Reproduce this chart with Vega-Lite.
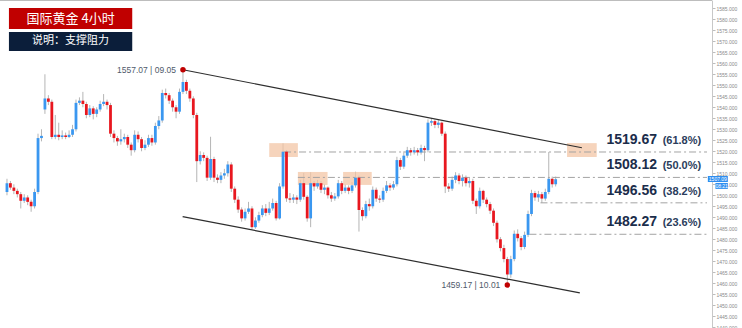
{
"$schema":"https://vega.github.io/schema/vega-lite/v6.json",
"width":712,"height":328,
"autosize":{"type":"none"},"padding":{"left":0,"top":0,"right":30,"bottom":0},
"background":"#ffffff",
"view":{"stroke":null},
"config":{"font":"Liberation Sans","axisY":{"orient":"right","format":".3f","tickCount":30,"labelFontSize":5,"labelColor":"#8a8a8a","tickSize":3,"tickColor":"#bdbdbd","domainColor":"#c8c8c8","labelPadding":1,"grid":false,"labelOverlap":false,"labelFont":"Liberation Sans"}},
"datasets":{
"candles":[
{"i":0,"o":1501.5,"c":1505.5,"h":1507.5,"l":1500},
{"i":1,"o":1505.5,"c":1503.5,"h":1506.5,"l":1502.5},
{"i":2,"o":1503.5,"c":1502,"h":1505,"l":1500.5},
{"i":3,"o":1502,"c":1500.5,"h":1503,"l":1499},
{"i":4,"o":1500.5,"c":1497.5,"h":1501.5,"l":1494},
{"i":5,"o":1497.5,"c":1499,"h":1500.5,"l":1496.5},
{"i":6,"o":1499,"c":1497,"h":1500,"l":1495.5},
{"i":7,"o":1497,"c":1495,"h":1498,"l":1492.5},
{"i":8,"o":1495,"c":1501.5,"h":1503,"l":1494},
{"i":9,"o":1501.5,"c":1526,"h":1528,"l":1500.5},
{"i":10,"o":1526,"c":1527,"h":1530,"l":1524.5},
{"i":11,"o":1539,"c":1544,"h":1555,"l":1537},
{"i":12,"o":1544,"c":1542.5,"h":1545.5,"l":1541},
{"i":13,"o":1542.5,"c":1526.5,"h":1543.5,"l":1525.5},
{"i":14,"o":1526.5,"c":1527.5,"h":1536.5,"l":1525.5},
{"i":15,"o":1527.5,"c":1526.5,"h":1533,"l":1525},
{"i":16,"o":1526.5,"c":1527.2,"h":1529.5,"l":1525.5},
{"i":17,"o":1527.2,"c":1526.5,"h":1528.5,"l":1525.5},
{"i":18,"o":1526.5,"c":1527.5,"h":1529.5,"l":1526},
{"i":19,"o":1527.5,"c":1530,"h":1532,"l":1526.5},
{"i":20,"o":1530,"c":1542,"h":1543.5,"l":1529},
{"i":21,"o":1542,"c":1543,"h":1544.5,"l":1541},
{"i":22,"o":1543,"c":1541.5,"h":1547,"l":1540},
{"i":23,"o":1541.5,"c":1536.5,"h":1542.5,"l":1535},
{"i":24,"o":1536.5,"c":1539.5,"h":1541,"l":1535.5},
{"i":25,"o":1539.5,"c":1537,"h":1540.5,"l":1534.5},
{"i":26,"o":1537,"c":1539,"h":1540,"l":1535.5},
{"i":27,"o":1539,"c":1541.5,"h":1543,"l":1538},
{"i":28,"o":1541.5,"c":1542.5,"h":1546,"l":1540.5},
{"i":29,"o":1542.5,"c":1541,"h":1543.5,"l":1539},
{"i":30,"o":1541,"c":1528,"h":1542,"l":1526.5},
{"i":31,"o":1528,"c":1526,"h":1529.5,"l":1524},
{"i":32,"o":1526,"c":1524.5,"h":1527,"l":1522.5},
{"i":33,"o":1524.5,"c":1525.5,"h":1530,"l":1523},
{"i":34,"o":1525.5,"c":1526.5,"h":1528,"l":1524},
{"i":35,"o":1526.5,"c":1523,"h":1527.5,"l":1521.5},
{"i":36,"o":1523,"c":1520.5,"h":1524,"l":1518},
{"i":37,"o":1520.5,"c":1527.5,"h":1529.5,"l":1519.5},
{"i":38,"o":1527.5,"c":1525.5,"h":1529,"l":1524},
{"i":39,"o":1525.5,"c":1521.5,"h":1526.5,"l":1520},
{"i":40,"o":1521.5,"c":1523,"h":1525,"l":1520.5},
{"i":41,"o":1523,"c":1526,"h":1527.5,"l":1522},
{"i":42,"o":1526,"c":1524,"h":1527.5,"l":1522.5},
{"i":43,"o":1524,"c":1531.5,"h":1533,"l":1523},
{"i":44,"o":1531.5,"c":1534,"h":1536,"l":1530},
{"i":45,"o":1534,"c":1546.5,"h":1548,"l":1533},
{"i":46,"o":1546.5,"c":1545.5,"h":1548.5,"l":1544},
{"i":47,"o":1545.5,"c":1543,"h":1546.5,"l":1541.5},
{"i":48,"o":1543,"c":1540,"h":1544,"l":1538},
{"i":49,"o":1540,"c":1538,"h":1541,"l":1535},
{"i":50,"o":1538,"c":1547,"h":1548.5,"l":1537},
{"i":51,"o":1547,"c":1551.5,"h":1557.07,"l":1546},
{"i":52,"o":1551.5,"c":1547.5,"h":1552.5,"l":1546},
{"i":53,"o":1547.5,"c":1544,"h":1548.5,"l":1542.5},
{"i":54,"o":1544,"c":1536.5,"h":1545,"l":1535},
{"i":55,"o":1536.5,"c":1515.5,"h":1537.5,"l":1506},
{"i":56,"o":1515.5,"c":1518.3,"h":1520,"l":1514},
{"i":57,"o":1518.3,"c":1517,"h":1519.5,"l":1515.5},
{"i":58,"o":1517,"c":1508,"h":1518,"l":1506.5},
{"i":59,"o":1508,"c":1516.5,"h":1526.6,"l":1507},
{"i":60,"o":1516.5,"c":1508,"h":1517.5,"l":1506},
{"i":61,"o":1508,"c":1507,"h":1509.5,"l":1505.5},
{"i":62,"o":1507,"c":1509,"h":1510.5,"l":1505.5},
{"i":63,"o":1509,"c":1510,"h":1512,"l":1507.5},
{"i":64,"o":1510,"c":1514,"h":1515.5,"l":1508.5},
{"i":65,"o":1514,"c":1503,"h":1515,"l":1501.5},
{"i":66,"o":1503,"c":1498,"h":1504,"l":1496.5},
{"i":67,"o":1498,"c":1493.5,"h":1499.5,"l":1492},
{"i":68,"o":1493.5,"c":1489.5,"h":1494.5,"l":1488},
{"i":69,"o":1489.5,"c":1492.5,"h":1494,"l":1488.5},
{"i":70,"o":1492.5,"c":1494,"h":1497,"l":1491.5},
{"i":71,"o":1494,"c":1485.5,"h":1495,"l":1484.5},
{"i":72,"o":1485.5,"c":1488.5,"h":1490,"l":1484.8},
{"i":73,"o":1488.5,"c":1491,"h":1492.5,"l":1487.5},
{"i":74,"o":1491,"c":1494,"h":1495.5,"l":1490},
{"i":75,"o":1494,"c":1492,"h":1496,"l":1490.5},
{"i":76,"o":1492,"c":1494,"h":1497,"l":1491},
{"i":77,"o":1494,"c":1496.5,"h":1498.5,"l":1493},
{"i":78,"o":1496.5,"c":1489.5,"h":1497.5,"l":1488.5},
{"i":79,"o":1489.5,"c":1504,"h":1505.5,"l":1489},
{"i":80,"o":1504,"c":1519.8,"h":1523.6,"l":1503},
{"i":81,"o":1519.8,"c":1498.6,"h":1520.5,"l":1497},
{"i":82,"o":1498.6,"c":1498,"h":1501,"l":1496.5},
{"i":83,"o":1498,"c":1499,"h":1500.5,"l":1496.5},
{"i":84,"o":1499,"c":1498,"h":1500,"l":1496},
{"i":85,"o":1498,"c":1505.5,"h":1507,"l":1497},
{"i":86,"o":1505.5,"c":1499.3,"h":1510.2,"l":1498},
{"i":87,"o":1499.3,"c":1489.5,"h":1500,"l":1488},
{"i":88,"o":1489.5,"c":1505.5,"h":1510.5,"l":1485.5},
{"i":89,"o":1505.5,"c":1504,"h":1506.5,"l":1502},
{"i":90,"o":1504,"c":1505.5,"h":1507,"l":1503},
{"i":91,"o":1505.5,"c":1502.5,"h":1506.5,"l":1501},
{"i":92,"o":1502.5,"c":1503.5,"h":1505,"l":1500.5},
{"i":93,"o":1503.5,"c":1500,"h":1504,"l":1498.5},
{"i":94,"o":1500,"c":1498.5,"h":1501.5,"l":1497},
{"i":95,"o":1498.5,"c":1499.5,"h":1501,"l":1497.5},
{"i":96,"o":1499.5,"c":1505.5,"h":1507,"l":1498.5},
{"i":97,"o":1505.5,"c":1502,"h":1506.5,"l":1500.5},
{"i":98,"o":1502,"c":1503.5,"h":1505,"l":1501},
{"i":99,"o":1503.5,"c":1502,"h":1504.5,"l":1500.5},
{"i":100,"o":1502,"c":1504.5,"h":1506,"l":1501},
{"i":101,"o":1504.5,"c":1508,"h":1510.7,"l":1503.5},
{"i":102,"o":1508,"c":1493.3,"h":1509,"l":1483.5},
{"i":103,"o":1493.3,"c":1490.5,"h":1494.5,"l":1488.5},
{"i":104,"o":1490.5,"c":1496,"h":1497.5,"l":1489.5},
{"i":105,"o":1496,"c":1495,"h":1498.5,"l":1493},
{"i":106,"o":1495,"c":1502.5,"h":1504,"l":1494},
{"i":107,"o":1502.5,"c":1498.5,"h":1503.5,"l":1497},
{"i":108,"o":1498.5,"c":1498,"h":1500,"l":1496.5},
{"i":109,"o":1498,"c":1502,"h":1503.5,"l":1497},
{"i":110,"o":1502,"c":1504.5,"h":1506.5,"l":1501},
{"i":111,"o":1504.5,"c":1503.5,"h":1505.5,"l":1502},
{"i":112,"o":1503.5,"c":1505,"h":1506.5,"l":1502.5},
{"i":113,"o":1505,"c":1516,"h":1517.5,"l":1504},
{"i":114,"o":1516,"c":1513,"h":1517,"l":1511.5},
{"i":115,"o":1513,"c":1518,"h":1520,"l":1512},
{"i":116,"o":1518,"c":1520.5,"h":1522,"l":1517},
{"i":117,"o":1520.5,"c":1519.5,"h":1521.5,"l":1518},
{"i":118,"o":1519.5,"c":1520.5,"h":1522,"l":1518.5},
{"i":119,"o":1520.5,"c":1519.5,"h":1521.5,"l":1518},
{"i":120,"o":1519.5,"c":1521.5,"h":1523,"l":1518.5},
{"i":121,"o":1521.5,"c":1520.5,"h":1522.5,"l":1515.5},
{"i":122,"o":1520.5,"c":1533,"h":1534.5,"l":1519.5},
{"i":123,"o":1533,"c":1533.7,"h":1535,"l":1531.5},
{"i":124,"o":1533.7,"c":1532,"h":1534.5,"l":1530.5},
{"i":125,"o":1532,"c":1533,"h":1534.5,"l":1530.5},
{"i":126,"o":1533,"c":1528,"h":1533.5,"l":1527},
{"i":127,"o":1528,"c":1504,"h":1529,"l":1501},
{"i":128,"o":1504,"c":1503,"h":1505.5,"l":1501.5},
{"i":129,"o":1503,"c":1507,"h":1508.5,"l":1502},
{"i":130,"o":1507,"c":1509,"h":1510.5,"l":1505.5},
{"i":131,"o":1509,"c":1506.5,"h":1510,"l":1505},
{"i":132,"o":1506.5,"c":1508,"h":1509.5,"l":1504},
{"i":133,"o":1508,"c":1505.5,"h":1509,"l":1504},
{"i":134,"o":1505.5,"c":1506.5,"h":1508,"l":1503.5},
{"i":135,"o":1506.5,"c":1497.5,"h":1507.5,"l":1496},
{"i":136,"o":1497.5,"c":1495,"h":1498.5,"l":1491.5},
{"i":137,"o":1495,"c":1502,"h":1503.5,"l":1494},
{"i":138,"o":1502,"c":1498,"h":1502.5,"l":1496.5},
{"i":139,"o":1498,"c":1496,"h":1499,"l":1494.5},
{"i":140,"o":1496,"c":1493,"h":1497,"l":1491.5},
{"i":141,"o":1493,"c":1487.5,"h":1494,"l":1486},
{"i":142,"o":1487.5,"c":1480,"h":1488.5,"l":1478.5},
{"i":143,"o":1480,"c":1476,"h":1481,"l":1474.5},
{"i":144,"o":1476,"c":1471,"h":1477.5,"l":1469.5},
{"i":145,"o":1471,"c":1464,"h":1472,"l":1459.17},
{"i":146,"o":1464,"c":1471,"h":1472.5,"l":1462.5},
{"i":147,"o":1471,"c":1482.5,"h":1484,"l":1470},
{"i":148,"o":1482.5,"c":1480.5,"h":1484.5,"l":1479},
{"i":149,"o":1480.5,"c":1476.5,"h":1481.5,"l":1475},
{"i":150,"o":1476.5,"c":1482,"h":1483.5,"l":1475.5},
{"i":151,"o":1482,"c":1491.5,"h":1493,"l":1481},
{"i":152,"o":1491.5,"c":1501,"h":1502.5,"l":1490.5},
{"i":153,"o":1501,"c":1499,"h":1502,"l":1497.5},
{"i":154,"o":1499,"c":1500.5,"h":1502,"l":1497},
{"i":155,"o":1500.5,"c":1498.5,"h":1501.5,"l":1496.5},
{"i":156,"o":1498.5,"c":1501.5,"h":1503,"l":1497.5},
{"i":157,"o":1501.5,"c":1507.5,"h":1519.7,"l":1500.5},
{"i":158,"o":1507.5,"c":1505,"h":1508.5,"l":1503.5},
{"i":159,"o":1505,"c":1507.3,"h":1508.5,"l":1504}
],
"levels":[
{"level":1519.67,"pct":"(61.8%)","from":80.3},
{"level":1508.12,"pct":"(50.0%)","from":84.3},
{"level":1496.56,"pct":"(38.2%)","from":154.6},
{"level":1482.27,"pct":"(23.6%)","from":151.4}
],
"zones":[
{"i1":76,"i2":84.3,"p1":1523.7,"p2":1517.4},
{"i1":84.3,"i2":92.9,"p1":1510.6,"p2":1504.7},
{"i1":97.4,"i2":105.7,"p1":1510.6,"p2":1504.7},
{"i1":162.3,"i2":170.9,"p1":1523.7,"p2":1517.4}
],
"channel":[
{"line":"upper","i":51,"p":1557.07},
{"line":"upper","i":166.6,"p":1521.6},
{"line":"lower","i":50.9,"p":1490.3},
{"line":"lower","i":166,"p":1455.6}
],
"pivots":[
{"i":51,"p":1557.07,"t":"1557.07 | 09.05"},
{"i":145,"p":1459.17,"t":"1459.17 | 10.01"}
],
"tags":[
{"kind":"title","t":"国际黄金 4小时"},
{"kind":"note","t":"说明：支撑阻力"},
{"kind":"price","t":"1507.09"},
{"kind":"time","t":"08:21"}
]
},
"layer":[
{"data":{"name":"candles"},
 "mark":{"type":"rule","color":"#b5b5b5","strokeWidth":1},
 "encoding":{
  "x":{"field":"i","type":"quantitative","scale":{"domain":[-0.5714,202.857],"nice":false,"zero":false},"axis":null},
  "y":{"field":"l","type":"quantitative","scale":{"domain":[1439.67,1588.76],"nice":false,"zero":false},
   "axis":{"orient":"right","title":null,"tickCount":30,"values":[1440,1445,1450,1455,1460,1465,1470,1475,1480,1485,1490,1495,1500,1505,1510,1515,1520,1525,1530,1535,1540,1545,1550,1555,1560,1565,1570,1575,1580,1585],"format":".3f","labelOverlap":false}},
  "y2":{"field":"h"}}},
{"data":{"name":"tags"},"transform":[{"filter":"datum.kind == 'title'"}],
 "mark":{"type":"rule","color":"#bdbdbd","strokeWidth":2},
 "encoding":{"y":{"datum":1588.76,"type":"quantitative","title":null}}},
{"data":{"name":"zones"},
 "mark":{"type":"rect","color":"#f3c6a5","opacity":0.75},
 "encoding":{
  "x":{"field":"i1","type":"quantitative","axis":null},
  "x2":{"field":"i2"},
  "y":{"field":"p1","type":"quantitative","title":null},
  "y2":{"field":"p2"}}},
{"data":{"name":"levels"},
 "mark":{"type":"rule","color":"#a3a3a3","strokeWidth":1,"strokeDash":[7,3,2,3]},
 "encoding":{
  "x":{"field":"from","type":"quantitative","axis":null},
  "x2":{"datum":202.857},
  "y":{"field":"level","type":"quantitative","title":null}}},
{"data":{"name":"candles"},
 "mark":{"type":"bar","size":2.8},
 "encoding":{
  "x":{"field":"i","type":"quantitative","axis":null},
  "y":{"field":"o","type":"quantitative","title":null},
  "y2":{"field":"c"},
  "color":{"condition":{"test":"datum.c >= datum.o","value":"#3a97f0"},"value":"#e8171f"}}},
{"data":{"name":"channel"},
 "mark":{"type":"line","color":"#2e2e2e","strokeWidth":1.2},
 "encoding":{
  "x":{"field":"i","type":"quantitative","axis":null},
  "y":{"field":"p","type":"quantitative","title":null},
  "detail":{"field":"line"}}},
{"data":{"name":"pivots"},
 "mark":{"type":"point","filled":true,"color":"#c00000","size":30,"opacity":1},
 "encoding":{
  "x":{"field":"i","type":"quantitative","axis":null},
  "y":{"field":"p","type":"quantitative","title":null}}},
{"data":{"name":"pivots"},
 "mark":{"type":"text","align":"right","baseline":"middle","dx":-7,"fontSize":8.5,"color":"#4f5a6b"},
 "encoding":{
  "x":{"field":"i","type":"quantitative","axis":null},
  "y":{"field":"p","type":"quantitative","title":null},
  "text":{"field":"t"}}},
{"data":{"name":"levels"},
 "mark":{"type":"text","align":"left","baseline":"alphabetic","dy":-8,"fontSize":14,"fontWeight":"bold","color":"#1b2d4b"},
 "encoding":{
  "x":{"datum":173.7,"type":"quantitative","axis":null},
  "y":{"field":"level","type":"quantitative","title":null},
  "text":{"field":"level","type":"quantitative","format":".2f"}}},
{"data":{"name":"levels"},
 "mark":{"type":"text","align":"left","baseline":"alphabetic","dy":-8,"fontSize":11,"fontWeight":"bold","color":"#2b3d5c"},
 "encoding":{
  "x":{"datum":190,"type":"quantitative","axis":null},
  "y":{"field":"level","type":"quantitative","title":null},
  "text":{"field":"pct"}}},
{"data":{"name":"tags"},"transform":[{"filter":"datum.kind == 'title'"}],
 "mark":{"type":"rect","color":"#c00000"},
 "encoding":{
  "x":{"datum":0.57,"type":"quantitative","axis":null},
  "x2":{"datum":36.3},
  "y":{"datum":1585.1,"type":"quantitative","title":null},
  "y2":{"datum":1575.6}}},
{"data":{"name":"tags"},"transform":[{"filter":"datum.kind == 'note'"}],
 "mark":{"type":"rect","color":"#0b1e3a"},
 "encoding":{
  "x":{"datum":0.57,"type":"quantitative","axis":null},
  "x2":{"datum":36.3},
  "y":{"datum":1574.2,"type":"quantitative","title":null},
  "y2":{"datum":1565.6}}},
{"data":{"name":"tags"},"transform":[{"filter":"datum.kind == 'title'"}],
 "mark":{"type":"text","align":"center","baseline":"middle","fontSize":13,"color":"#ffffff","font":"Noto Sans CJK SC"},
 "encoding":{
  "x":{"datum":18.43,"type":"quantitative","axis":null},
  "y":{"datum":1580.35,"type":"quantitative","title":null},
  "text":{"field":"t"}}},
{"data":{"name":"tags"},"transform":[{"filter":"datum.kind == 'note'"}],
 "mark":{"type":"text","align":"center","baseline":"middle","fontSize":11,"color":"#ffffff","font":"Noto Sans CJK SC"},
 "encoding":{
  "x":{"datum":18.43,"type":"quantitative","axis":null},
  "y":{"datum":1569.9,"type":"quantitative","title":null},
  "text":{"field":"t"}}},
{"data":{"name":"tags"},"transform":[{"filter":"datum.kind == 'price'"}],
 "mark":{"type":"rect","color":"#2f8ef0"},
 "encoding":{
  "x":{"datum":203.1,"type":"quantitative","axis":null},
  "x2":{"datum":208.9},
  "y":{"datum":1508.76,"type":"quantitative","title":null},
  "y2":{"datum":1506.03}}},
{"data":{"name":"tags"},"transform":[{"filter":"datum.kind == 'time'"}],
 "mark":{"type":"rect","color":"#2f8ef0"},
 "encoding":{
  "x":{"datum":205.3,"type":"quantitative","axis":null},
  "x2":{"datum":208.9},
  "y":{"datum":1505.6,"type":"quantitative","title":null},
  "y2":{"datum":1502.9}}},
{"data":{"name":"tags"},"transform":[{"filter":"datum.kind == 'price'"}],
 "mark":{"type":"text","align":"center","baseline":"middle","fontSize":5,"color":"#ffffff"},
 "encoding":{
  "x":{"datum":206,"type":"quantitative","axis":null},
  "y":{"datum":1507.4,"type":"quantitative","title":null},
  "text":{"field":"t"}}},
{"data":{"name":"tags"},"transform":[{"filter":"datum.kind == 'time'"}],
 "mark":{"type":"text","align":"center","baseline":"middle","fontSize":5,"color":"#ffffff"},
 "encoding":{
  "x":{"datum":207.1,"type":"quantitative","axis":null},
  "y":{"datum":1504.25,"type":"quantitative","title":null},
  "text":{"field":"t"}}}
]
}
